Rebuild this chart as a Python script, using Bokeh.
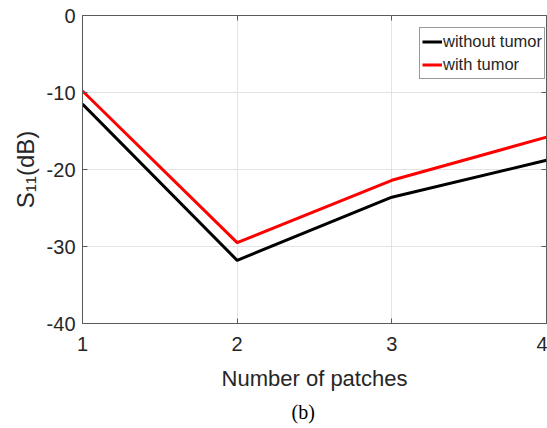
from bokeh.plotting import figure
from bokeh.models import (Range1d, LinearAxis, FixedTicker, Legend, LegendItem, Title,
                          CustomJSTickFormatter)
from bokeh.embed import file_html
from bokeh.resources import INLINE

# data
patches = [1, 2, 3, 4]
without_tumor = [-11.5, -31.8, -23.6, -18.8]
with_tumor = [-9.8, -29.5, -21.4, -15.8]
x_ticks = [1, 2, 3, 4]
y_ticks = [-40, -30, -20, -10, 0]
y_tick_labels = ["-40", "-30", "-20", "-10", "0"]

AX = "#5a5a5a"
TXT = "#262626"

p = figure(width=547, height=428, output_backend="svg", toolbar_location=None,
           x_range=Range1d(1, 4), y_range=Range1d(-40, 0),
           min_border_left=82, min_border_right=1, min_border_top=15,
           min_border_bottom=105)

p.outline_line_color = AX
p.outline_line_width = 1

for ax in (p.xaxis[0], p.yaxis[0]):
    ax.axis_line_color = AX
    ax.major_tick_line_color = AX
    ax.major_tick_in = 5
    ax.major_tick_out = 0
    ax.minor_tick_line_color = None
    ax.major_label_text_font = "Liberation Sans"
    ax.major_label_text_font_size = "20px"
    ax.major_label_text_color = TXT
    ax.axis_label_text_font = "Liberation Sans"
    ax.axis_label_text_font_size = "22px"
    ax.axis_label_text_font_style = "normal"
    ax.axis_label_text_color = TXT

p.xaxis.ticker = FixedTicker(ticks=x_ticks)
p.yaxis.ticker = FixedTicker(ticks=y_ticks)
p.yaxis.major_label_overrides = dict(zip(y_ticks, y_tick_labels))
p.xaxis.major_label_standoff = 13
p.yaxis.major_label_standoff = 7
p.xaxis.axis_label = "Number of patches"
p.xaxis.axis_label_standoff = 12
p.yaxis.axis_label = "S\u2081\u2081(dB)"
p.yaxis.axis_label_text_font_size = "24px"
p.yaxis.axis_label_standoff = 5

# top and right axes with inward ticks only
blank = CustomJSTickFormatter(code="return ''")
top = LinearAxis(ticker=FixedTicker(ticks=x_ticks), formatter=blank,
                 axis_line_color=None, major_tick_line_color=AX,
                 major_tick_in=5, major_tick_out=0, minor_tick_line_color=None,
                 major_label_standoff=0)
right = LinearAxis(ticker=FixedTicker(ticks=y_ticks), formatter=blank,
                   axis_line_color=None, major_tick_line_color=AX,
                   major_tick_in=5, major_tick_out=0, minor_tick_line_color=None,
                   major_label_standoff=0)
p.add_layout(top, "above")
p.add_layout(right, "right")

p.xgrid.ticker = FixedTicker(ticks=[2, 3])
p.ygrid.ticker = FixedTicker(ticks=[-30, -20, -10])
p.grid.grid_line_color = "#e3e3e3"
p.grid.grid_line_width = 1

r1 = p.line(patches, without_tumor, line_color="black", line_width=3)
r2 = p.line(patches, with_tumor, line_color="#ff0000", line_width=3)

legend = Legend(items=[LegendItem(label="without tumor", renderers=[r1]),
                       LegendItem(label="with tumor", renderers=[r2])],
                location=(337, 244))
legend.label_text_font = "Liberation Sans"
legend.label_text_font_size = "16.5px"
legend.label_text_color = TXT
legend.label_standoff = 1
legend.glyph_width = 20
legend.glyph_height = 23
legend.label_height = 23
legend.spacing = 0
legend.padding = 2
legend.margin = 0
legend.border_line_color = "#333333"
legend.border_line_width = 1
legend.background_fill_color = "white"
legend.background_fill_alpha = 1
p.add_layout(legend, "center")

# caption
cap = Title(text="(b)", align="left", offset=209, standoff=11,
            text_font="Liberation Serif", text_font_size="20px",
            text_font_style="normal", text_color="black")
p.add_layout(cap, "below")

open("out.html", "w").write(file_html(p, INLINE))
